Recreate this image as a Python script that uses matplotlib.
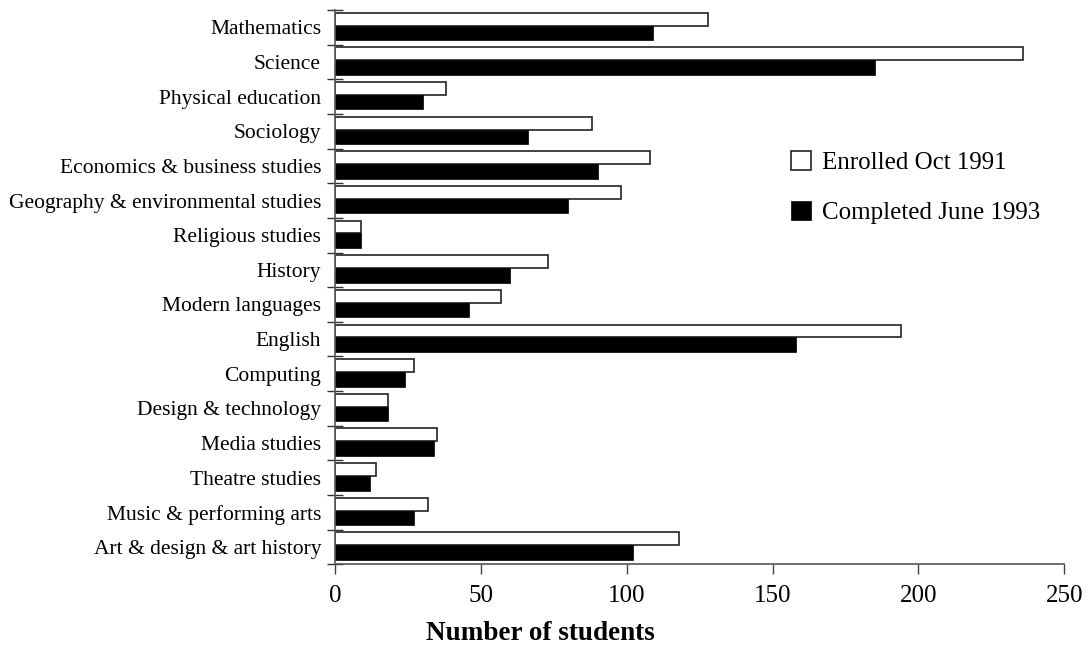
import matplotlib
matplotlib.use("Agg")
import matplotlib.pyplot as plt
import numpy as np

# Subjects, top to bottom
subjects = [
    "Mathematics", "Science", "Physical education", "Sociology",
    "Economics & business studies", "Geography & environmental studies",
    "Religious studies", "History", "Modern languages", "English",
    "Computing", "Design & technology", "Media studies", "Theatre studies",
    "Music & performing arts", "Art & design & art history",
]
enrolled = [128, 236, 38, 88, 108, 98, 9, 73, 57, 194, 27, 18, 35, 14, 32, 118]
completed = [109, 185, 30, 66, 90, 80, 9, 60, 46, 158, 24, 18, 34, 12, 27, 102]
x_ticks = [0, 50, 100, 150, 200, 250]

FONT = "Liberation Serif"
plt.rcParams["font.family"] = FONT

fig = plt.figure(figsize=(10.88, 6.45), dpi=100)
ax = fig.add_axes([335 / 1088, 1 - 564.3 / 645, (1064.3 - 335) / 1088, (564.3 - 10) / 645])

y = np.arange(len(subjects))
ax.barh(y - 0.235, enrolled, height=0.37, color="white", edgecolor="#222222",
        linewidth=1.2, label="Enrolled Oct 1991")
ax.barh(y + 0.16, completed, height=0.42, color="black", edgecolor="black",
        linewidth=0.5, label="Completed June 1993")

ax.set_xlim(0, 250)
ax.set_ylim(len(subjects) - 0.5, -0.5)

ax.set_xticks(x_ticks)
ax.set_xticklabels([str(t) for t in x_ticks], fontsize=18)
ax.tick_params(axis="x", direction="out", length=7, width=1, color="#444444", pad=8)

ax.set_yticks(y)
ax.set_yticklabels(subjects, fontsize=15.5)
ax.set_yticks(np.arange(len(subjects) + 1) - 0.5, minor=True)
ax.tick_params(axis="y", which="major", length=0, pad=10)
ax.tick_params(axis="y", which="minor", direction="inout", length=12, width=1, color="#333333")

for side in ["top", "right"]:
    ax.spines[side].set_visible(False)
for side in ["left", "bottom"]:
    ax.spines[side].set_color("#555555")
    ax.spines[side].set_linewidth(1.2)

fig.text(540 / 1088, 1 - 633 / 645, "Number of students", ha="center", va="center",
         fontsize=19.5, fontweight="bold")

ax.legend(loc="upper left", bbox_to_anchor=(791 / 1088, 1 - 151 / 645),
          bbox_transform=fig.transFigure, frameon=False, fontsize=18,
          handlelength=0.8, handleheight=0.8, handletextpad=0.45,
          labelspacing=1.05, borderpad=0, borderaxespad=0)

fig.savefig("out.png", dpi=100)
